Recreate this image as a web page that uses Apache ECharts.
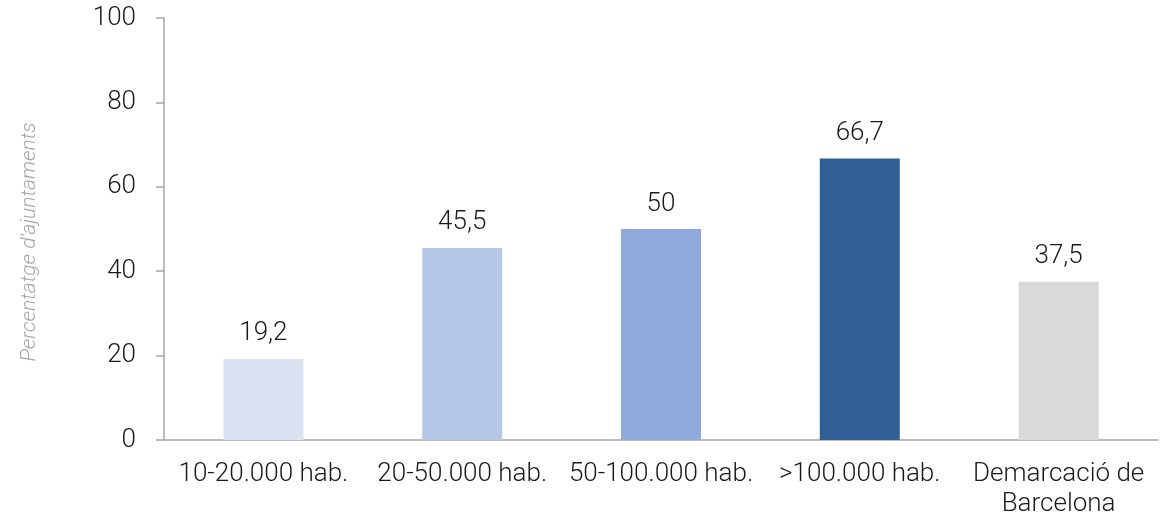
<!DOCTYPE html>
<html><head><meta charset="utf-8">
<script src="https://cdn.jsdelivr.net/npm/echarts@6/dist/echarts.min.js"></script>
<style>html,body{margin:0;padding:0;background:#fff}#c{width:1176px;height:519px}</style>
</head><body><div id="c"></div>
<script>
const categories = ['10-20.000 hab.', '20-50.000 hab.', '50-100.000 hab.', '>100.000 hab.', 'Demarcació de\nBarcelona'];
const values = [19.2, 45.5, 50, 66.7, 37.5];
const barColors = ['#dae3f3', '#b4c7e7', '#8faadc', '#2f5f94', '#d9d9d9'];
const yTicks = [0, 20, 40, 60, 80, 100];
const yAxisTitle = "Percentatge d'ajuntaments";

const chart = echarts.init(document.getElementById('c'));
const font = 'Roboto, Liberation Sans, Arial, sans-serif';
chart.setOption({
  animation: false,
  grid: { left: 164, right: 18, top: 18, bottom: 78, containLabel: false },
  graphic: [{
    type: 'text', x: 30, y: 242, rotation: Math.PI / 2,
    style: { text: yAxisTitle, fill: '#a6a6a6', fontSize: 21, fontWeight: 300, fontStyle: 'italic',
      fontFamily: font, align: 'center', verticalAlign: 'middle' }
  }],
  xAxis: {
    type: 'category', data: categories,
    axisLine: { lineStyle: { color: '#a6a6a6', width: 1.5 } },
    axisTick: { show: false },
    axisLabel: { color: '#1a1a1a', fontSize: 26, fontWeight: 300, fontFamily: font, margin: 19, lineHeight: 30, interval: 0 }
  },
  yAxis: {
    type: 'value', min: 0, max: 100, interval: 20,
    axisLine: { show: true, lineStyle: { color: '#a6a6a6', width: 1.5 } },
    axisTick: { show: true, length: 8, lineStyle: { color: '#a6a6a6', width: 1.5 } },
    splitLine: { show: false },
    axisLabel: { color: '#1a1a1a', fontSize: 26, fontWeight: 300, fontFamily: font, margin: 28,
      formatter: v => yTicks.includes(v) ? String(v) : '' }
  },
  series: [{
    type: 'bar', barWidth: 80,
    data: values.map((v, i) => ({ value: v, itemStyle: { color: barColors[i] } })),
    label: { show: true, position: 'top', distance: 12, color: '#1a1a1a', fontSize: 26, fontWeight: 300, fontFamily: font,
      formatter: p => String(p.value).replace('.', ',') }
  }]
});
</script></body></html>
